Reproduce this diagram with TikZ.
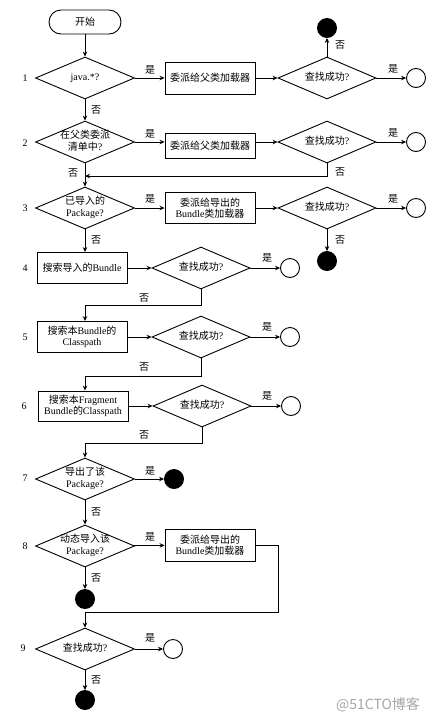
\documentclass[tikz,border=0pt]{standalone}
\usepackage{fontspec}
\setmainfont{Liberation Serif}
\newfontfamily\cjk[Scale=1.0]{Noto Sans CJK SC}
\usetikzlibrary{shapes.geometric,arrows.meta}
\newcommand{\zh}[1]{{\cjk #1}}
\newcommand{\dtxt}[1]{\makebox[0pt]{\begin{tabular}{@{}c@{}}#1\end{tabular}}}
\begin{document}
\begin{tikzpicture}[x=1pt,y=-1pt,
  every node/.style={font=\fontsize{10}{11.5}\selectfont},
  arr/.style={line width=0.8pt,-{Stealth[length=5pt,width=4.5pt]}},
  ln/.style={line width=0.8pt},
  proc/.style={draw,line width=0.9pt,minimum width=90pt,minimum height=31pt,inner sep=1pt,align=center},
  dec/.style={draw,diamond,line width=0.9pt,minimum width=99pt,minimum height=42pt,inner sep=0pt,aspect=2.36},
  dec2/.style={dec,minimum width=98pt},
  endo/.style={draw,circle,line width=0.9pt,minimum size=19pt,inner sep=0pt},
  endf/.style={endo,fill=black},
  startbox/.style={draw,line width=0.9pt,rounded corners=12pt,minimum width=72pt,minimum height=24pt,inner sep=0pt},
  lbl/.style={inner sep=0pt,font=\cjk\fontsize{10}{12}\selectfont},
  num/.style={inner sep=0pt,font=\fontsize{10}{12}\selectfont}]
\fill[white] (0,0) rectangle (437,723);
\useasboundingbox (0,0) rectangle (437,723);

% row 0
\node[startbox] (start) at (85,22) {\zh{开始}};
% row 1
\node[dec] (d1) at (85,78) {\dtxt{java.*?}};
\node[proc,minimum height=32pt] (b1) at (210,78) {\zh{委派给父类加载器}};
\node[dec2] (f1) at (327,78) {\dtxt{\zh{查找成功}?}};
\node[endo] (c1) at (416,78) {};
\node[endf] (e1) at (327,28) {};
% row 2
\node[dec] (d2) at (85,142) {\dtxt{\zh{在父类委派}\\\zh{清单中}?}};
\node[proc,minimum height=25pt] (b2) at (210,145.5) {\zh{委派给父类加载器}};
\node[dec2] (f2) at (327,142) {\dtxt{\zh{查找成功}?}};
\node[endo] (c2) at (416,142) {};
\coordinate (j2) at (85,176);
% row 3
\node[dec] (d3) at (85,208) {\dtxt{\zh{已导入的}\\Package?}};
\node[proc] (b3) at (210,208) {\zh{委派给导出的}\\Bundle\zh{类加载器}};
\node[dec2] (f3) at (327,208) {\dtxt{\zh{查找成功}?}};
\node[endo] (c3) at (416,208) {};
\node[endf] (e3) at (327,261) {};
% row 4
\node[proc] (b4) at (82,268) {\zh{搜索导入的}Bundle};
\node[dec2] (f4) at (201,268) {\dtxt{\zh{查找成功}?}};
\node[endo] (c4) at (290,268) {};
% row 5
\node[proc] (b5) at (82,337) {\zh{搜索本}Bundle\zh{的}\\Classpath};
\node[dec2] (f5) at (201,337) {\dtxt{\zh{查找成功}?}};
\node[endo] (c5) at (290,337) {};
% row 6
\node[proc,minimum height=30pt] (b6) at (83,406) {\zh{搜索本}Fragment\\Bundle\zh{的}Classpath};
\node[dec2] (f6) at (202,406) {\dtxt{\zh{查找成功}?}};
\node[endo] (c6) at (291,406) {};
% row 7
\node[dec] (d7) at (85,479) {\dtxt{\zh{导出了该}\\Package?}};
\node[endf] (e7) at (174,479) {};
% row 8
\node[dec] (d8) at (85,546) {\dtxt{\zh{动态导入该}\\Package?}};
\node[proc,minimum height=32pt] (b8) at (210,545) {\zh{委派给导出的}\\Bundle\zh{类加载器}};
\node[endf] (e8) at (85,599) {};
\coordinate (k8) at (278,612);
% row 9
\node[dec] (d9) at (85,649) {\dtxt{\zh{查找成功}?}};
\node[endo] (c9) at (173,649) {};
\node[endf] (e9) at (85,700) {};

% connectors
\draw[arr] (start) -- (d1);
\draw[arr] (d1) -- (b1);
\draw[arr] (b1) -- (f1);
\draw[arr] (f1) -- (c1);
\draw[arr] (f1) -- (e1);
\draw[arr] (d1) -- (d2);
\draw[arr] (d2.east) -- (d2.east -| b2.west);
\draw[arr] (d2.east -| b2.east) -- (f2.west);
\draw[arr] (f2) -- (c2);
\draw[arr] (f2.south) |- (j2);
\draw[arr] (d2) -- (d3);
\draw[arr] (d3) -- (b3);
\draw[arr] (b3) -- (f3);
\draw[arr] (f3) -- (c3);
\draw[arr] (f3) -- (e3);
\draw[arr] (d3.south) -- (d3.south |- b4.north);
\draw[arr] (b4) -- (f4);
\draw[arr] (f4) -- (c4);
\draw[arr] (f4.south) -- ++(0,16) -| ([xshift=3pt]b5.north);
\draw[arr] (b5) -- (f5);
\draw[arr] (f5) -- (c5);
\draw[arr] (f5.south) -- ++(0,18) -| ([xshift=2pt]b6.north);
\draw[arr] (b6) -- (f6);
\draw[arr] (f6) -- (c6);
\draw[arr] (f6.south) -- ++(0,16) -| (d7.north);
\draw[arr] (d7) -- (e7);
\draw[arr] (d7) -- (d8);
\draw[arr] (d8) -- (b8);
\draw[arr] (d8) -- (e8);
\draw[arr] (b8.east) -| (k8) -| (d9.north);
\draw[arr] (d9) -- (c9);
\draw[arr] (d9) -- (e9);

% yes / no labels
\node[lbl] (y1) at (150,70) {是};
\node[lbl] (y1b) at (393,69) {是};
\node[lbl] (n1a) at (340,45) {否};
\node[lbl] (n1) at (96,110) {否};
\node[lbl] (y2) at (150,134) {是};
\node[lbl] (y2b) at (393,133) {是};
\node[lbl] (n2) at (73,173) {否};
\node[lbl] (n2b) at (340,172) {否};
\node[lbl] (y3) at (150,199) {是};
\node[lbl] (y3b) at (393,199) {是};
\node[lbl] (n3) at (96,240) {否};
\node[lbl] (n3b) at (340,240) {否};
\node[lbl] (y4) at (267,258) {是};
\node[lbl] (n4) at (144,298) {否};
\node[lbl] (y5) at (267,327) {是};
\node[lbl] (n5) at (144,367) {否};
\node[lbl] (y6) at (267,396) {是};
\node[lbl] (n6) at (144,435) {否};
\node[lbl] (y7) at (150,471) {是};
\node[lbl] (n7) at (96,512) {否};
\node[lbl] (y8) at (150,537) {是};
\node[lbl] (n8) at (96,578) {否};
\node[lbl] (y9) at (150,638) {是};
\node[lbl] (n9) at (96,680) {否};

% row numbers
\node[num] (r1) at (25,78) {1};
\node[num] (r2) at (25,143) {2};
\node[num] (r3) at (25,208) {3};
\node[num] (r4) at (25,268) {4};
\node[num] (r5) at (25,337) {5};
\node[num] (r6) at (24,406) {6};
\node[num] (r7) at (25,478) {7};
\node[num] (r8) at (25,546) {8};
\node[num] (r9) at (23,648) {9};

% watermark
\node[inner sep=0pt,font=\cjk\fontsize{14}{14}\selectfont,text=black!35] (wm) at (378,705) {@51CTO博客};
\end{tikzpicture}
\end{document}
